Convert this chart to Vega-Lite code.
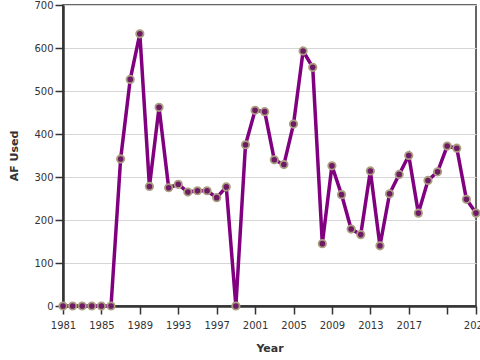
{
  "$schema": "https://vega.github.io/schema/vega-lite/v6.json",
  "width": 413,
  "height": 301,
  "autosize": "none",
  "padding": {"left": 63, "top": 5, "right": 4, "bottom": 54},
  "background": "white",
  "config": {
    "font": "DejaVu Sans",
    "view": {"stroke": "#333333", "strokeWidth": 1.5},
    "axis": {
      "labelFont": "DejaVu Sans",
      "titleFont": "DejaVu Sans",
      "labelFontSize": 10,
      "titleFontSize": 11,
      "titleFontWeight": "bold",
      "labelColor": "#333333",
      "titleColor": "#333333",
      "domainColor": "#333333",
      "domainWidth": 2.5,
      "tickColor": "#333333",
      "tickWidth": 1.5,
      "tickSize": 8,
      "gridColor": "#d6d6d6"
    }
  },
  "data": {
    "values": [
      {"Year": 1981, "AF": 0}, {"Year": 1982, "AF": 0}, {"Year": 1983, "AF": 0},
      {"Year": 1984, "AF": 0}, {"Year": 1985, "AF": 0}, {"Year": 1986, "AF": 0},
      {"Year": 1987, "AF": 342}, {"Year": 1988, "AF": 527}, {"Year": 1989, "AF": 633},
      {"Year": 1990, "AF": 278}, {"Year": 1991, "AF": 462}, {"Year": 1992, "AF": 275},
      {"Year": 1993, "AF": 283}, {"Year": 1994, "AF": 265}, {"Year": 1995, "AF": 268},
      {"Year": 1996, "AF": 268}, {"Year": 1997, "AF": 252}, {"Year": 1998, "AF": 277},
      {"Year": 1999, "AF": 0}, {"Year": 2000, "AF": 375}, {"Year": 2001, "AF": 455},
      {"Year": 2002, "AF": 452}, {"Year": 2003, "AF": 340}, {"Year": 2004, "AF": 329},
      {"Year": 2005, "AF": 423}, {"Year": 2006, "AF": 593}, {"Year": 2007, "AF": 555},
      {"Year": 2008, "AF": 145}, {"Year": 2009, "AF": 326}, {"Year": 2010, "AF": 259},
      {"Year": 2011, "AF": 179}, {"Year": 2012, "AF": 166}, {"Year": 2013, "AF": 314},
      {"Year": 2014, "AF": 140}, {"Year": 2015, "AF": 261}, {"Year": 2016, "AF": 306},
      {"Year": 2017, "AF": 350}, {"Year": 2018, "AF": 216}, {"Year": 2019, "AF": 292},
      {"Year": 2020, "AF": 312}, {"Year": 2021, "AF": 372}, {"Year": 2022, "AF": 367},
      {"Year": 2023, "AF": 248}, {"Year": 2024, "AF": 216}
    ]
  },
  "encoding": {
    "x": {
      "field": "Year",
      "type": "quantitative",
      "scale": {"domain": [1981, 2024], "nice": false, "zero": false},
      "axis": {
        "values": [1981, 1985, 1989, 1993, 1997, 2001, 2005, 2009, 2013, 2017, 2021, 2024],
        "format": "d",
        "labelExpr": "datum.value == 2021 ? '' : datum.label",
        "grid": false,
        "labelOverlap": false,
        "labelFlush": false,
        "labelPadding": 6,
        "title": "Year",
        "titlePadding": 12
      }
    },
    "y": {
      "field": "AF",
      "type": "quantitative",
      "scale": {"domain": [0, 700], "nice": false},
      "axis": {
        "values": [0, 100, 200, 300, 400, 500, 600, 700],
        "grid": true,
        "title": "AF Used",
        "titlePadding": 14
      }
    }
  },
  "layer": [
    {
      "mark": {"type": "line", "color": "#800080", "strokeWidth": 3.5, "clip": false}
    },
    {
      "mark": {"type": "point", "filled": true, "fill": "#6e1a64", "stroke": "#aa9f80", "strokeWidth": 1.8, "size": 55, "opacity": 1, "clip": false}
    }
  ]
}
